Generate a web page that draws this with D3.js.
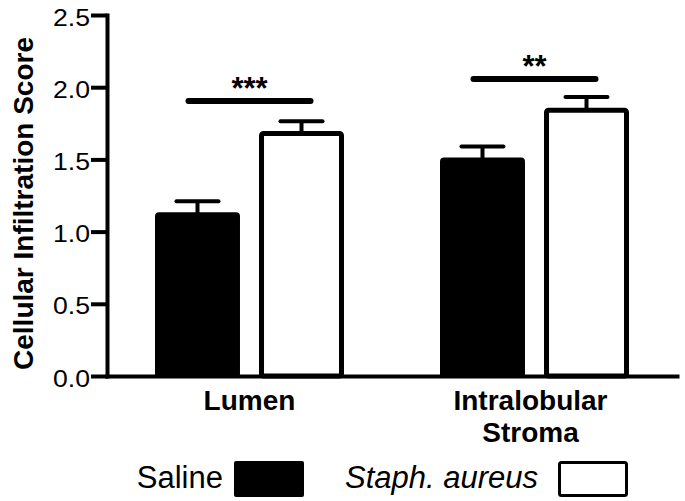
<!DOCTYPE html>
<html>
<head>
<meta charset="utf-8">
<script src="https://cdn.jsdelivr.net/npm/d3@7"></script>
<style>
  html, body { margin: 0; padding: 0; background: #fff; }
  svg { display: block; }
</style>
</head>
<body>
<div id="chart"></div>
<script>
// ---- data ----
const groups = ["Lumen", "Intralobular Stroma"];
const groupLabelLines = [["Lumen"], ["Intralobular", "Stroma"]];
const series = ["Saline", "Staph. aureus"];
const salineMean = [1.12, 1.50];
const salineSEM = [0.09, 0.09];
const aureusMean = [1.68, 1.84];
const aureusSEM = [0.085, 0.092];
const sigLevel = [1.905, 2.057];
const sigLabel = ["***", "**"];
const yTicks = [0, 0.5, 1.0, 1.5, 2.0, 2.5];
const yTitle = "Cellular Infiltration Score";

// ---- layout ----
const W = 685, H = 501;
const FONT = "'Liberation Sans', Arial, Helvetica, sans-serif";
const svg = d3.select("#chart").append("svg").attr("width", W).attr("height", H)
  .style("font-family", FONT);

const y = d3.scaleLinear().domain([0, 2.5]).range([376, 15]);
const x0 = d3.scaleBand().domain(groups).range([107, 677]).padding(0);
const x1 = d3.scaleBand().domain(series).range([48, 237]).paddingInner(0.183).paddingOuter(0);

const means = [salineMean, aureusMean];
const sems = [salineSEM, aureusSEM];
const rows = [];
groups.forEach((g, gi) => series.forEach((s, si) => rows.push({g, gi, s, si, m: means[si][gi], e: sems[si][gi]})));

const styleBySeries = {
  "Saline": {fill: "#000", sw: 4, italic: false},
  "Staph. aureus": {fill: "#fff", sw: 5, italic: true}
};

// bars
const bars = svg.append("g");
rows.forEach(r => {
  const st = styleBySeries[r.s];
  const bx = x0(r.g) + x1(r.s);
  const bw = x1.bandwidth();
  bars.append("rect")
    .attr("x", bx + st.sw / 2).attr("width", bw - st.sw)
    .attr("y", y(r.m)).attr("height", y(0) - y(r.m))
    .attr("rx", 2)
    .attr("fill", st.fill).attr("stroke", "#000").attr("stroke-width", st.sw);
  const cx = bx + bw / 2;
  bars.append("line").attr("x1", cx).attr("x2", cx)
    .attr("y1", y(r.m)).attr("y2", y(r.m + r.e))
    .attr("stroke", "#000").attr("stroke-width", 4);
  bars.append("line").attr("x1", cx - 21).attr("x2", cx + 21)
    .attr("y1", y(r.m + r.e)).attr("y2", y(r.m + r.e))
    .attr("stroke", "#000").attr("stroke-width", 4).attr("stroke-linecap", "round");
});

// significance bars
groups.forEach((g, gi) => {
  const c1 = x0(g) + x1(series[0]) + x1.bandwidth() / 2;
  const c2 = x0(g) + x1(series[1]) + x1.bandwidth() / 2;
  svg.append("line").attr("x1", c1 - 9).attr("x2", c2 + 9)
    .attr("y1", y(sigLevel[gi])).attr("y2", y(sigLevel[gi]))
    .attr("stroke", "#000").attr("stroke-width", 6).attr("stroke-linecap", "round");
  svg.append("text").attr("x", (c1 + c2) / 2).attr("y", y(sigLevel[gi]) - 2)
    .attr("text-anchor", "middle").attr("font-size", 31).attr("font-weight", "bold")
    .text(sigLabel[gi]);
});

// y axis
const yAxis = svg.append("g").attr("transform", "translate(107,0)")
  .call(d3.axisLeft(y).tickValues(yTicks).tickFormat(d3.format(".1f")).tickSize(16).tickSizeOuter(0).tickPadding(1));
yAxis.select(".domain").attr("stroke-width", 4).attr("stroke-linecap", "square");
yAxis.selectAll(".tick line").attr("stroke-width", 4);
yAxis.selectAll(".tick text").attr("font-size", 24).attr("font-family", FONT).attr("fill", "#000")
  .attr("dy", "0.42em").attr("textLength", 37).attr("lengthAdjust", "spacingAndGlyphs");

// x axis
const xAxis = svg.append("g").attr("transform", `translate(0,${y(0)})`)
  .call(d3.axisBottom(x0).tickSize(0).tickSizeOuter(0).tickFormat(""));
xAxis.select(".domain").attr("stroke-width", 4).attr("stroke-linecap", "square");

groups.forEach((g, gi) => {
  const t = svg.append("text").attr("text-anchor", "middle")
    .attr("font-size", 28).attr("font-weight", "bold").attr("fill", "#000");
  groupLabelLines[gi].forEach((line, li) => {
    t.append("tspan").attr("x", x0(g) + x0.bandwidth() / 2 - (gi ? 4 : 0)).attr("y", 410 + li * 32).text(line);
  });
});

// y title
svg.append("text").attr("transform", `translate(33,${(15 + 376) / 2 + 8}) rotate(-90)`)
  .attr("text-anchor", "middle").attr("font-size", 28).attr("font-weight", "bold")
  .text(yTitle);

// legend
const legendPos = [{tx: 223, rx: 234}, {tx: 345, rx: 558}];
series.forEach((s, si) => {
  const st = styleBySeries[s];
  const lp = legendPos[si];
  svg.append("text").attr("x", lp.tx).attr("y", 488)
    .attr("text-anchor", si === 0 ? "end" : "start")
    .attr("font-size", 31).attr("font-style", st.italic ? "italic" : "normal")
    .text(s);
  const sw = si === 0 ? 0 : 3;
  svg.append("rect").attr("x", lp.rx + sw / 2).attr("y", 461 + sw / 2)
    .attr("width", 70 - sw).attr("height", 36 - sw).attr("rx", 2)
    .attr("fill", st.fill).attr("stroke", "#000").attr("stroke-width", sw);
});
</script>
</body>
</html>
